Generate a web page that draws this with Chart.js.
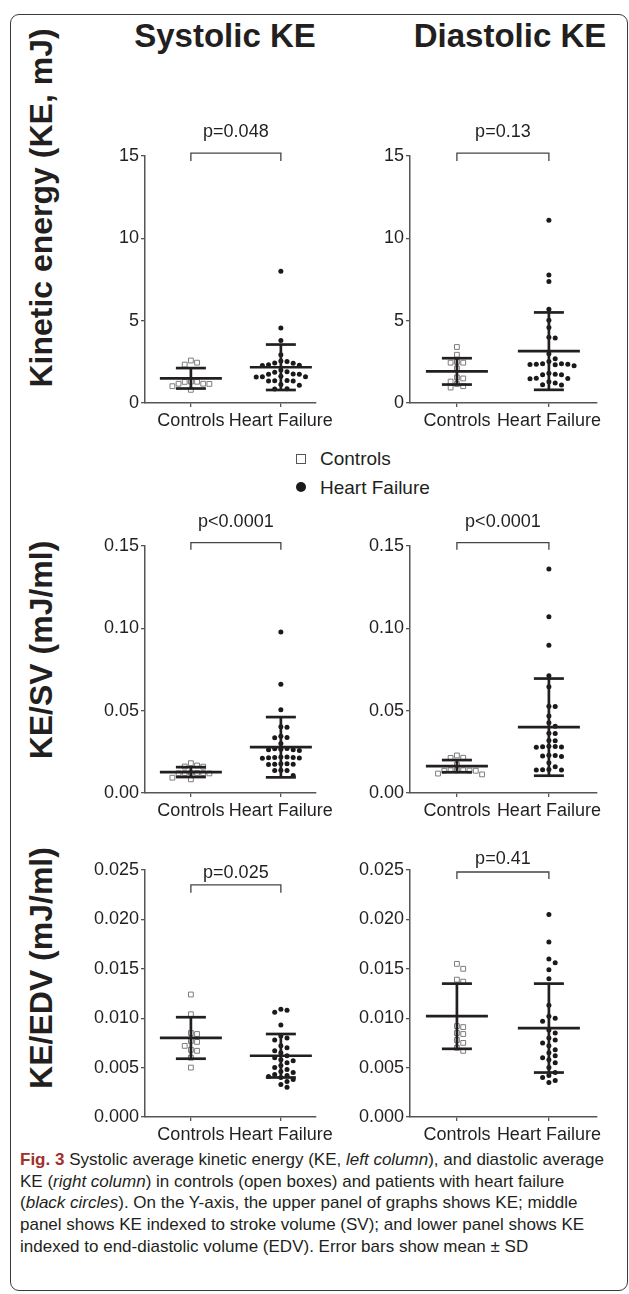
<!DOCTYPE html>
<html>
<head>
<meta charset="utf-8">
<script src="https://cdn.jsdelivr.net/npm/chart.js@4.4.1/dist/chart.umd.min.js"></script>
<style>
body{margin:0;background:#fff;width:629px;height:1294px;position:relative;overflow:hidden;font-family:"Liberation Sans",Arial,sans-serif;color:#231f20}
.frame{position:absolute;left:10px;top:14px;width:616px;height:1275px;border:1.5px solid #3a3a3a;border-radius:9px}
canvas{position:absolute}
.title{position:absolute;font-weight:bold;font-size:33px;transform:translate(-50%,-50%);white-space:nowrap}
.ylab{position:absolute;font-weight:bold;font-size:32px;transform:translate(-50%,-50%) rotate(-90deg);white-space:nowrap}
.leg{position:absolute;left:320px;font-size:19px;transform:translateY(-50%);white-space:nowrap}
.sq{position:absolute;left:296px;width:8px;height:8px;border:1.4px solid #555;background:#fff}
.dot{position:absolute;left:296px;width:10px;height:10px;border-radius:50%;background:#1a1a1a}
.cap{position:absolute;left:20px;top:1149px;font-size:17px;line-height:21.7px;white-space:nowrap}
.cap b{color:#a0302a}
</style>
</head>
<body>
<div class="frame"></div>
<div class="title" style="left:225px;top:36px">Systolic KE</div>
<div class="title" style="left:510px;top:36px">Diastolic KE</div>
<div class="ylab" style="left:41px;top:208px">Kinetic energy (KE, mJ)</div>
<div class="ylab" style="left:41px;top:650px">KE/SV (mJ/ml)</div>
<div class="ylab" style="left:41px;top:968px">KE/EDV (mJ/ml)</div>

<div class="sq" style="top:454px"></div>
<div class="leg" style="top:459px" id="legA"></div>
<div class="dot" style="top:482px"></div>
<div class="leg" style="top:488px" id="legB"></div>

<canvas id="c1" width="270" height="339" style="left:70px;top:96px"></canvas>
<canvas id="c2" width="282" height="339" style="left:335px;top:96px"></canvas>
<canvas id="c3" width="270" height="339" style="left:70px;top:486px"></canvas>
<canvas id="c4" width="282" height="339" style="left:335px;top:486px"></canvas>
<canvas id="c5" width="270" height="339" style="left:70px;top:810px"></canvas>
<canvas id="c6" width="282" height="339" style="left:335px;top:810px"></canvas>

<div class="cap"><b>Fig. 3</b> Systolic average kinetic energy (KE, <i>left column</i>), and diastolic average<br>KE (<i>right column</i>) in controls (open boxes) and patients with heart failure<br>(<i>black circles</i>). On the Y-axis, the upper panel of graphs shows KE; middle<br>panel shows KE indexed to stroke volume (SV); and lower panel shows KE<br>indexed to end-diastolic volume (EDV). Error bars show mean ± SD</div>

<script>
const categories = ["Controls", "Heart Failure"];

// kinetic energy, mJ
const sysKeCtrl = [2.58, 2.45, 2.33, 1.29, 1.3, 1.28, 1.17, 1.17, 1.16, 1.02, 0.8];
const sysKeHf = [8.0, 4.55, 3.8, 2.93, 2.55, 2.52, 2.43, 2.41, 2.32, 2.3, 2.28, 2.0, 1.9, 1.87, 1.76, 1.75, 1.74,
  1.62, 1.6, 1.6, 1.58, 1.37, 1.35, 1.34, 1.33, 1.12, 1.08, 0.87, 0.85];
const diaKeCtrl = [3.4, 2.93, 2.45, 2.45, 2.5, 2.1, 1.55, 1.49, 1.3, 1.15, 0.94, 1.02];
const diaKeHf = [11.1, 7.77, 7.38, 5.7, 5.03, 4.58, 4.0, 3.94, 2.99, 2.68, 2.52, 2.39, 2.38, 2.36, 2.36, 2.34, 2.32,
  2.26, 1.8, 1.74, 1.72, 1.72, 1.51, 1.49, 1.47, 1.29, 1.21, 1.11, 1.09];

// KE / stroke volume, mJ/ml
const sysSvCtrl = [0.0181, 0.0167, 0.0161, 0.0160, 0.0122, 0.0121, 0.0119, 0.0121, 0.012, 0.0123, 0.0093, 0.0083];
const sysSvHf = [0.0978, 0.0661, 0.0506, 0.0403, 0.0400, 0.0337, 0.0345, 0.0336, 0.0300, 0.0268, 0.0262, 0.0258,
  0.0262, 0.0265, 0.0270, 0.0218, 0.0212, 0.0215, 0.0216, 0.0219, 0.0211, 0.0214, 0.0174, 0.0175, 0.0178, 0.0173,
  0.0178, 0.0137, 0.0138, 0.0136, 0.0107];
const diaSvCtrl = [0.0228, 0.0214, 0.0213, 0.0172, 0.0137, 0.0135, 0.0135, 0.0136, 0.0138, 0.0138, 0.0113, 0.0118];
const diaSvHf = [0.136, 0.107, 0.0897, 0.0712, 0.0645, 0.0527, 0.0525, 0.0468, 0.0426, 0.0405, 0.0363, 0.0362,
  0.0319, 0.0317, 0.0282, 0.0280, 0.0278, 0.0281, 0.0284, 0.0222, 0.0228, 0.0230, 0.0224, 0.0184, 0.0160, 0.0140,
  0.0141, 0.0142, 0.0139];

// KE / end-diastolic volume, mJ/ml
const sysEdvCtrl = [0.0124, 0.0104, 0.0085, 0.0084, 0.0077, 0.0076, 0.0072, 0.0068, 0.0067, 0.0060, 0.0050];
const sysEdvHf = [0.0109, 0.0108, 0.0106, 0.0093, 0.0082, 0.0080, 0.0078, 0.0072, 0.0070, 0.0067, 0.0065, 0.0062,
  0.0060, 0.0058, 0.0057, 0.0055, 0.0052, 0.0050, 0.0048, 0.0046, 0.0045, 0.0043, 0.0042, 0.0041, 0.0040, 0.0038,
  0.0036, 0.0033, 0.0030];
const diaEdvCtrl = [0.0155, 0.0150, 0.0139, 0.0137, 0.0092, 0.0091, 0.0084, 0.0085, 0.0078, 0.0075, 0.0070, 0.0067];
const diaEdvHf = [0.0205, 0.0177, 0.0160, 0.0156, 0.0149, 0.0140, 0.0113, 0.0102, 0.0100, 0.0097, 0.0088, 0.0085,
  0.0080, 0.0078, 0.0075, 0.0072, 0.0068, 0.0065, 0.0062, 0.0060, 0.0058, 0.0055, 0.0050, 0.0045, 0.0042, 0.0040,
  0.0037, 0.0035];

// mean and SD per group [controls, heart failure]
const means = [[1.5, 2.17], [1.92, 3.15], [0.0127, 0.0278], [0.0163, 0.040], [0.0080, 0.0062], [0.0102, 0.0090]];
const sds = [[0.62, 1.38], [0.8, 2.35], [0.003, 0.0183], [0.0037, 0.0295], [0.0021, 0.0022], [0.0033, 0.0045]];

const yTicksKe = ["0", "5", "10", "15"];
const yTicksSv = ["0.00", "0.05", "0.10", "0.15"];
const yTicksEdv = ["0.000", "0.005", "0.010", "0.015", "0.020", "0.025"];
const pLabels = ["p=0.048", "p=0.13", "p<0.0001", "p<0.0001", "p=0.025", "p=0.41"];

document.getElementById("legA").textContent = categories[0];
document.getElementById("legB").textContent = categories[1];

const FONT = "'Liberation Sans', Arial, sans-serif";
const INK = "#231f20";
const PLOT_H = 247;
const PX_PER_CAT = 92;

// simple beeswarm so the dots spread sideways like the original
function swarm(values, pxPerUnit) {
  const step = 6.3;
  const placed = [];
  const offs = new Array(values.length).fill(0);
  const order = values.map((v, i) => i).sort((a, b) => values[b] - values[a]);
  for (const i of order) {
    const py = values[i] * pxPerUnit;
    for (let k = 0; k < 60; k++) {
      const o = (k % 2 ? 1 : -1) * Math.ceil(k / 2) * step;
      const hit = placed.some(p => Math.abs(p.x - o) < step * 0.95 && Math.abs(p.y - py) < 5.6);
      if (!hit) {
        offs[i] = o;
        placed.push({ x: o, y: py });
        break;
      }
    }
  }
  return offs;
}

function toPoints(values, cat, yMax) {
  const offs = swarm(values, PLOT_H / yMax);
  return values.map((v, i) => ({ x: cat + offs[i] / PX_PER_CAT, y: v }));
}

const marks = {
  id: "marks",
  afterDatasetsDraw(chart, args, opts) {
    const { ctx, scales: { x, y } } = chart;
    const line = (x1, y1, x2, y2) => { ctx.beginPath(); ctx.moveTo(x1, y1); ctx.lineTo(x2, y2); ctx.stroke(); };
    ctx.save();
    ctx.strokeStyle = INK;
    ctx.lineWidth = 2.7;
    opts.mean.forEach((m, i) => {
      const cx = x.getPixelForValue(i);
      const my = y.getPixelForValue(m);
      const hi = y.getPixelForValue(m + opts.sd[i]);
      const lo = y.getPixelForValue(Math.max(0, m - opts.sd[i]));
      line(cx, hi, cx, lo);
      line(cx - 31, my, cx + 31, my);
      line(cx - 15, hi, cx + 15, hi);
      line(cx - 15, lo, cx + 15, lo);
    });
    const by = y.getPixelForValue(opts.bracket);
    const x0 = x.getPixelForValue(0), x1 = x.getPixelForValue(1);
    ctx.lineWidth = 1.3;
    ctx.strokeStyle = "#444";
    ctx.beginPath();
    ctx.moveTo(x0, by + opts.drop);
    ctx.lineTo(x0, by);
    ctx.lineTo(x1, by);
    ctx.lineTo(x1, by + opts.drop);
    ctx.stroke();
    ctx.fillStyle = INK;
    ctx.font = "18px " + FONT;
    ctx.textAlign = "center";
    ctx.textBaseline = "alphabetic";
    ctx.fillText(opts.p, (x0 + x1) / 2, by - opts.gap);
    ctx.restore();
  }
};

function makePanel(id, idx, ctrl, hf, ticks, xMax, bracket, gap, drop) {
  const yMax = parseFloat(ticks[ticks.length - 1]);
  const axisStyle = {
    grid: { display: true, drawOnChartArea: false, drawTicks: true, tickLength: 4, color: "#555", lineWidth: 1.3 },
    border: { display: true, color: "#555", width: 1.5 }
  };
  new Chart(document.getElementById(id), {
    type: "scatter",
    data: {
      datasets: [
        {
          label: categories[0],
          data: toPoints(ctrl, 0, yMax),
          pointStyle: "rect",
          pointRadius: 3.4,
          pointBorderWidth: 1,
          pointBorderColor: "#7d7d7d",
          pointBackgroundColor: "#fff"
        },
        {
          label: categories[1],
          data: toPoints(hf, 1, yMax),
          pointStyle: "circle",
          pointRadius: 2.5,
          pointBorderWidth: 0,
          pointBackgroundColor: "#1a1a1a"
        }
      ]
    },
    options: {
      responsive: false,
      animation: false,
      layout: { padding: { top: 60, right: 20, left: 0, bottom: 0 } },
      plugins: {
        legend: { display: false },
        tooltip: { enabled: false },
        marks: { mean: means[idx], sd: sds[idx], p: pLabels[idx], bracket: bracket, gap: gap, drop: drop }
      },
      scales: {
        x: Object.assign({
          type: "linear",
          min: -0.51,
          max: xMax,
          afterBuildTicks: s => { s.ticks = [{ value: 0 }, { value: 1 }]; },
          afterFit: s => { s.height = 32; },
          ticks: {
            callback: v => categories[v],
            autoSkip: false,
            maxRotation: 0,
            padding: 3,
            color: INK,
            font: { family: FONT, size: 18 }
          }
        }, axisStyle),
        y: Object.assign({
          min: 0,
          max: yMax,
          afterBuildTicks: s => { s.ticks = ticks.map(t => ({ value: parseFloat(t) })); },
          afterFit: s => { s.width = 75; },
          ticks: {
            callback: (v, i) => ticks[i],
            padding: 2,
            color: INK,
            font: { family: FONT, size: 18 }
          }
        }, axisStyle)
      }
    },
    plugins: [marks]
  });
}

makePanel("c1", 0, sysKeCtrl, sysKeHf, yTicksKe, 1.392, 15.18, 16, 8);
makePanel("c2", 1, diaKeCtrl, diaKeHf, yTicksKe, 1.523, 15.18, 16, 8);
makePanel("c3", 2, sysSvCtrl, sysSvHf, yTicksSv, 1.392, 0.152, 16, 7);
makePanel("c4", 3, diaSvCtrl, diaSvHf, yTicksSv, 1.523, 0.152, 16, 7);
makePanel("c5", 4, sysEdvCtrl, sysEdvHf, yTicksEdv, 1.392, 0.0235, 7, 8);
makePanel("c6", 5, diaEdvCtrl, diaEdvHf, yTicksEdv, 1.523, 0.0248, 8, 7);
</script>
</body>
</html>
